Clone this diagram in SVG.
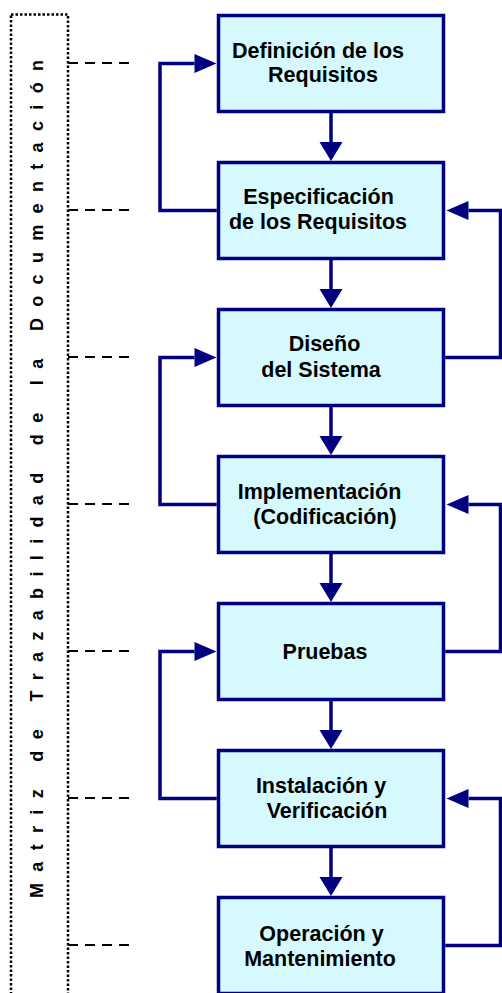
<svg xmlns="http://www.w3.org/2000/svg" width="502" height="993" viewBox="0 0 502 993">
<style>
.box{fill:#D5F9FD;stroke:#000080;stroke-width:3.5}
.lbl{font-family:"Liberation Sans",Arial,sans-serif;font-weight:bold;font-size:21.5px;fill:#000;text-anchor:middle}
.side{font-family:"Liberation Sans",Arial,sans-serif;font-weight:bold;font-size:18px;fill:#000}
.conn{fill:none;stroke:#000080;stroke-width:3.5;stroke-linejoin:miter}
.dash{fill:none;stroke:#000;stroke-width:2.2;stroke-dasharray:10 7}
.dot{fill:none;stroke:#000;stroke-width:2.5;stroke-dasharray:2.5 2}
</style>
<defs>
<marker id="down" markerUnits="userSpaceOnUse" markerWidth="19" markerHeight="23" refX="0" refY="11.5" orient="auto" overflow="visible">
<path d="M0,0 L19,11.5 L0,23 Z" fill="#000080"/>
</marker>
<marker id="side" markerUnits="userSpaceOnUse" markerWidth="22" markerHeight="19" refX="0" refY="9.5" orient="auto" overflow="visible">
<path d="M0,0 L22,9.5 L0,19 Z" fill="#000080"/>
</marker>
</defs>

<g id="matrix">
<rect class="dot" x="11" y="14.5" width="57" height="1000"/>
<text class="side" transform="translate(43,898) rotate(-90)" textLength="838" lengthAdjust="spacing">Matriz de Trazabilidad de la Documentación</text>
</g>

<g id="connectors">
<path class="dash" d="M68,63 H130 M68,210 H130 M68,357 H130 M68,504 H130 M68,651 H130 M68,798 H130 M68,945 H130"/>
<path class="conn" d="M331,113 V142" marker-end="url(#down)"/>
<path class="conn" d="M331,260 V289" marker-end="url(#down)"/>
<path class="conn" d="M331,407 V436" marker-end="url(#down)"/>
<path class="conn" d="M331,554 V583" marker-end="url(#down)"/>
<path class="conn" d="M331,701 V730" marker-end="url(#down)"/>
<path class="conn" d="M331,848 V877" marker-end="url(#down)"/>
<path class="conn" d="M216.75,210.5 H160 V63.5 H194.5" marker-end="url(#side)"/>
<path class="conn" d="M216.75,504.5 H160 V357.5 H194.5" marker-end="url(#side)"/>
<path class="conn" d="M216.75,798.5 H160 V651.5 H194.5" marker-end="url(#side)"/>
<path class="conn" d="M445.25,357.5 H500.5 V210.5 H468.5" marker-end="url(#side)"/>
<path class="conn" d="M445.25,651.5 H500.5 V504.5 H468.5" marker-end="url(#side)"/>
<path class="conn" d="M445.25,945.5 H500.5 V798.5 H468.5" marker-end="url(#side)"/>
</g>

<g id="n1">
<rect class="box" x="218.5" y="15.5" width="225" height="96"/>
<text class="lbl" x="318" y="57.5">Definición de los</text>
<text class="lbl" x="323" y="82">Requisitos</text>
</g>
<g id="n2">
<rect class="box" x="218.5" y="162.5" width="225" height="96"/>
<text class="lbl" x="318.5" y="204">Especificación</text>
<text class="lbl" x="318" y="229">de los Requisitos</text>
</g>
<g id="n3">
<rect class="box" x="218.5" y="309.5" width="225" height="96"/>
<text class="lbl" x="324.5" y="351">Diseño</text>
<text class="lbl" x="321" y="377">del Sistema</text>
</g>
<g id="n4">
<rect class="box" x="218.5" y="456.5" width="225" height="96"/>
<text class="lbl" x="319.5" y="498.5">Implementación</text>
<text class="lbl" x="325" y="523.5">(Codificación)</text>
</g>
<g id="n5">
<rect class="box" x="218.5" y="603.5" width="225" height="96"/>
<text class="lbl" x="325" y="659">Pruebas</text>
</g>
<g id="n6">
<rect class="box" x="218.5" y="750.5" width="225" height="96"/>
<text class="lbl" x="321" y="792.5">Instalación y</text>
<text class="lbl" x="327" y="818">Verificación</text>
</g>
<g id="n7">
<rect class="box" x="218.5" y="897.5" width="225" height="96"/>
<text class="lbl" x="321.5" y="941">Operación y</text>
<text class="lbl" x="320" y="966">Mantenimiento</text>
</g>
</svg>
